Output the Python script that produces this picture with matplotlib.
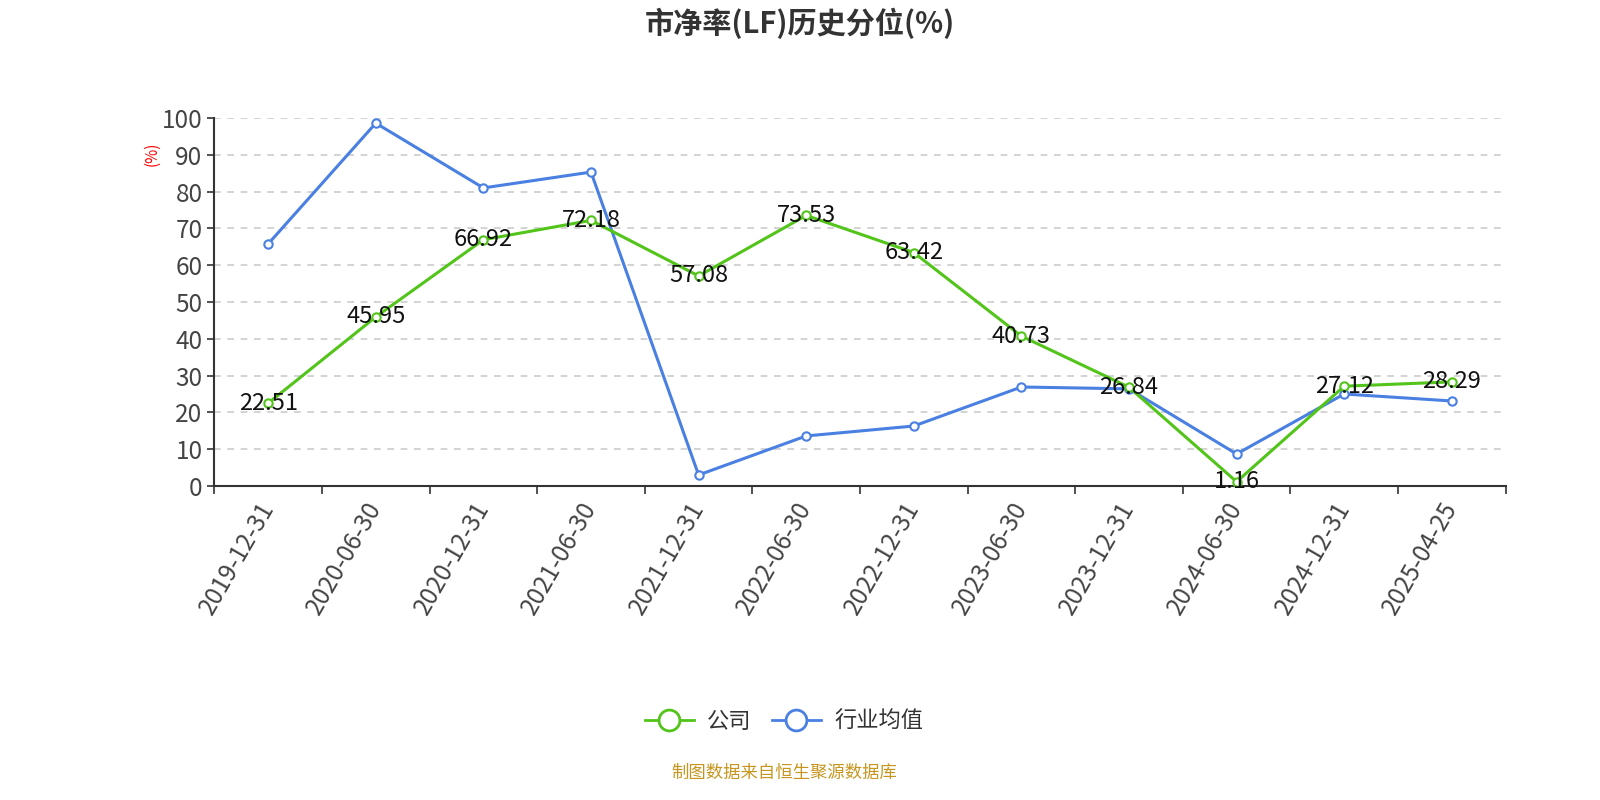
import matplotlib
matplotlib.use("Agg")
import matplotlib.pyplot as plt
from matplotlib.lines import Line2D

plt.rcParams['font.family'] = ['Noto Sans CJK SC', 'DejaVu Sans']

# chart data
dates = ['2019-12-31', '2020-06-30', '2020-12-31', '2021-06-30', '2021-12-31',
         '2022-06-30', '2022-12-31', '2023-06-30', '2023-12-31', '2024-06-30',
         '2024-12-31', '2025-04-25']
company = [22.51, 45.95, 66.92, 72.18, 57.08, 73.53, 63.42, 40.73, 26.84, 1.16,
           27.12, 28.29]
industry = [65.8, 98.6, 81.0, 85.3, 3.0, 13.6, 16.3, 26.9, 26.4, 8.7, 25.0, 23.1]

green = '#52c41a'
blue = '#4a80e2'

fig = plt.figure(figsize=(16, 8), dpi=100)
ax = fig.add_axes([0.134, 0.3925, 0.807, 0.46])

x = list(range(len(dates)))
ax.plot(x, industry, color=blue, lw=2.2, marker='o', ms=6,
        mfc='white', mec=blue, mew=1.5, zorder=3)
ax.plot(x, company, color=green, lw=2.2, marker='o', ms=6,
        mfc='white', mec=green, mew=1.5, zorder=4)

for xi, v in zip(x, company):
    ax.text(xi, v, f'{v:.2f}', ha='center', va='center',
            fontsize=17, color='#111111', zorder=5)

ax.set_xlim(-0.5, len(dates) - 0.5)
ax.set_ylim(0, 100)
ax.set_yticks(range(0, 101, 10))
ax.tick_params(axis='y', labelsize=17.5, colors='#333333', length=5, width=1.2)
for t in ax.get_yticklabels():
    t.set_color('#444444')

# ticks at band boundaries, labels at centers
ax.set_xticks([i - 0.5 for i in range(len(dates) + 1)])
ax.set_xticklabels([])
ax.set_xticks(x, minor=True)
ax.set_xticklabels(dates, minor=True, rotation=60, ha='right', va='center',
                   rotation_mode='anchor', fontsize=17.5, color='#444444')
ax.tick_params(axis='x', which='major', length=6, width=1.2, colors='#333333')
ax.tick_params(axis='x', which='minor', length=0, pad=13)

ax.grid(axis='y', linestyle=(0, (4, 4)), color='#cccccc', lw=1.2)
ax.set_axisbelow(True)
for s in ['top', 'right']:
    ax.spines[s].set_visible(False)
for s in ['left', 'bottom']:
    ax.spines[s].set_color('#333333')
    ax.spines[s].set_linewidth(1.5)

fig.text(0.095, 0.808, '(%)', rotation=90, color='red', fontsize=11,
         ha='center', va='center')

fig.suptitle('市净率(LF)历史分位(%)', y=0.99, fontsize=21, fontweight='bold',
             color='#333333')

handles = [Line2D([], [], color=green, lw=2, marker='o', ms=15, mfc='white',
                  mec=green, mew=2),
           Line2D([], [], color=blue, lw=2, marker='o', ms=15, mfc='white',
                  mec=blue, mew=2)]
fig.legend(handles, ['公司', '行业均值'], loc='center', bbox_to_anchor=(0.49, 0.098),
           ncol=2, frameon=False, fontsize=16, handlelength=2.2,
           handletextpad=0.6, columnspacing=0.9, labelcolor='#333333')

fig.text(0.49, 0.034, '制图数据来自恒生聚源数据库', ha='center', va='center',
         fontsize=12.5, color='#c8961e')

fig.savefig('out.png', dpi=100)
